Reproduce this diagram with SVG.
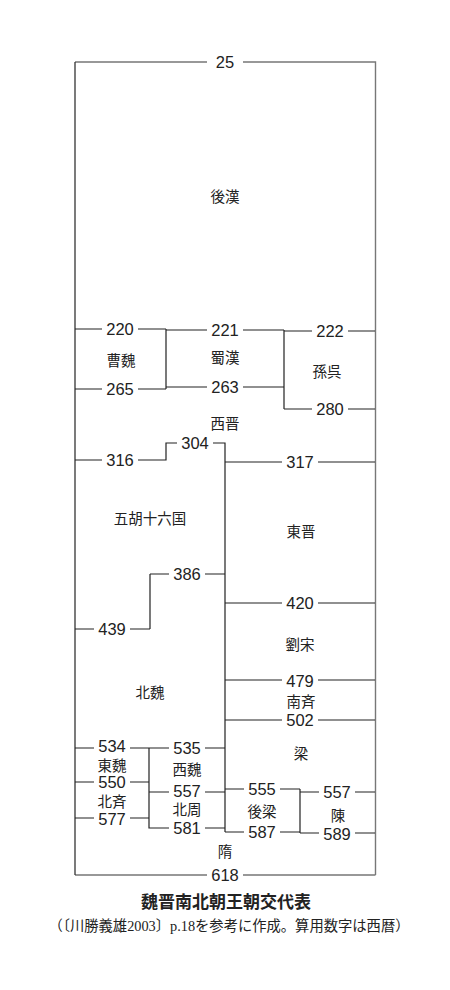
<svg xmlns="http://www.w3.org/2000/svg" width="450" height="990" viewBox="0 0 450 990">
<style>
.bg{fill:#fff}
.ln{fill:none;stroke:#222;stroke-width:1.2}
.frame{fill:none;stroke:#777;stroke-width:1.4}
.left{fill:none;stroke:#333;stroke-width:1.3}
.yr{font-family:"Liberation Sans",Arial,sans-serif;font-size:16.5px;fill:#222;text-anchor:middle}
.nm{font-family:"Noto Sans CJK JP","Noto Sans CJK SC",sans-serif;font-size:14.5px;fill:#222;text-anchor:middle}
.title{font-family:"Noto Sans CJK JP",sans-serif;font-size:17px;font-weight:bold;fill:#222;text-anchor:middle}
.sub{font-family:"Liberation Serif","Noto Sans CJK JP",serif;font-size:14.3px;fill:#222;text-anchor:middle}
</style>
<rect class="bg" x="0" y="0" width="450" height="990"/>
<g id="connectors">
<path class="frame" d="M75 62 H207 M243 62 H375.5 V875 M75 875 H207 M243 875 H375.5"/>
<path class="left" d="M75 62 V875"/>
<path class="ln" d="M75 329 H102 M138 329 H166 M166 330 H207 M243 330 H284 M284 331 H312 M348 331 H375
M75 389 H102 M138 389 H166 M166 387 H207 M243 387 H284 M284 409 H312 M348 409 H375
M166 329 V389 M284 330 V409
M75 460 H102 M138 460 H166 V443 H177 M213 443 H225 V832
M225 462 H282 M318 462 H375
M150 574 H169 M205 574 H225 M150 574 V629 M75 629 H94 M130 629 H150
M225 603 H282 M318 603 H375
M225 680 H282 M318 680 H375
M225 720 H282 M318 720 H375
M75 748 H94 M130 748 H149 M149 748 H169 M205 748 H225
M75 782 H94 M130 782 H149 M149 792 H169 M205 792 H225
M75 818 H94 M130 818 H149 M149 748 V828 H169 M205 828 H225
M225 789 H244 M280 789 H300 M225 832 H244 M280 832 H300 M300 789 V833
M300 792 H319 M355 792 H375 M300 833 H319 M355 833 H375"/>
<g id="years">
<text class="yr" x="225" y="68">25</text>
<text class="yr" x="120" y="335">220</text>
<text class="yr" x="225" y="336">221</text>
<text class="yr" x="330" y="337">222</text>
<text class="yr" x="120" y="395">265</text>
<text class="yr" x="225" y="393">263</text>
<text class="yr" x="330" y="415">280</text>
<text class="yr" x="120" y="466">316</text>
<text class="yr" x="195" y="449">304</text>
<text class="yr" x="300" y="468">317</text>
<text class="yr" x="187" y="580">386</text>
<text class="yr" x="112" y="635">439</text>
<text class="yr" x="300" y="609">420</text>
<text class="yr" x="300" y="687">479</text>
<text class="yr" x="300" y="726">502</text>
<text class="yr" x="112" y="752">534</text>
<text class="yr" x="187" y="754">535</text>
<text class="yr" x="112" y="788">550</text>
<text class="yr" x="187" y="797">557</text>
<text class="yr" x="112" y="825">577</text>
<text class="yr" x="187" y="834">581</text>
<text class="yr" x="262" y="795">555</text>
<text class="yr" x="262" y="838">587</text>
<text class="yr" x="337" y="798">557</text>
<text class="yr" x="337" y="840">589</text>
<text class="yr" x="225" y="881">618</text>
</g>
</g>
<g id="n-gokan"><text class="nm" x="225" y="202">後漢</text></g>
<g id="n-sogi"><text class="nm" x="121" y="366">曹魏</text></g>
<g id="n-shokukan"><text class="nm" x="225" y="363">蜀漢</text></g>
<g id="n-songo"><text class="nm" x="327" y="377">孫呉</text></g>
<g id="n-seishin"><text class="nm" x="225" y="429">西晋</text></g>
<g id="n-gokojurokkoku"><text class="nm" x="150" y="524">五胡十六国</text></g>
<g id="n-toshin"><text class="nm" x="301" y="537">東晋</text></g>
<g id="n-ryuso"><text class="nm" x="300" y="650">劉宋</text></g>
<g id="n-hokugi"><text class="nm" x="150" y="698">北魏</text></g>
<g id="n-nansei"><text class="nm" x="301" y="707">南斉</text></g>
<g id="n-ryo"><text class="nm" x="301" y="759">梁</text></g>
<g id="n-togi"><text class="nm" x="112" y="771">東魏</text></g>
<g id="n-seigi"><text class="nm" x="187" y="775">西魏</text></g>
<g id="n-hokusei"><text class="nm" x="112" y="807">北斉</text></g>
<g id="n-hokushu"><text class="nm" x="187" y="815">北周</text></g>
<g id="n-koryo"><text class="nm" x="262" y="817">後梁</text></g>
<g id="n-chin"><text class="nm" x="338" y="821">陳</text></g>
<g id="n-zui"><text class="nm" x="225" y="857">隋</text></g>
<g id="caption">
<text class="title" x="226" y="908">魏晋南北朝王朝交代表</text>
<text class="sub" x="229" y="931">（〔川勝義雄2003〕p.18を参考に作成。算用数字は西暦）</text>
</g>
</svg>
